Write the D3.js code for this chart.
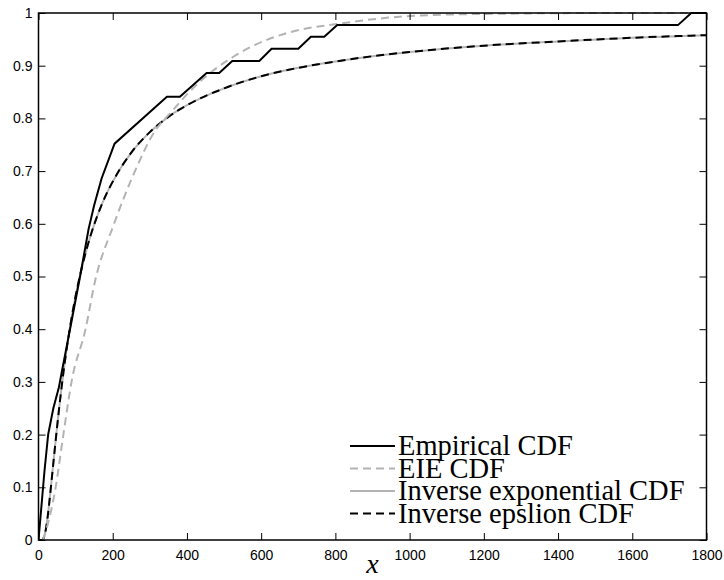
<!DOCTYPE html>
<html>
<head>
<meta charset="utf-8">
<script src="https://cdn.jsdelivr.net/npm/d3@7"></script>
<style>
  body { margin: 0; background: #fff; }
  svg { display: block; }
</style>
</head>
<body>
<svg></svg>
<script>
// values
var xTicks = [0, 200, 400, 600, 800, 1000, 1200, 1400, 1600, 1800];
var yTicks = [0, 0.1, 0.2, 0.3, 0.4, 0.5, 0.6, 0.7, 0.8, 0.9, 1];

var empX = [0, 8, 16, 26, 40, 55, 63, 85, 112, 135, 150, 170, 205, 346, 381, 453, 487, 522, 595, 628, 700, 734, 770, 805, 1723, 1759, 1800];
var empY = [0, 0.065, 0.13, 0.2, 0.25, 0.29, 0.32, 0.40, 0.50, 0.59, 0.635, 0.686, 0.752, 0.841, 0.841, 0.886, 0.886, 0.909, 0.909, 0.932, 0.932, 0.955, 0.955, 0.977, 0.977, 1, 1];

var eieX = [12, 25, 45, 67, 90, 126, 153, 202, 265, 310, 355, 426, 525, 615, 704, 803, 973, 1100, 1300, 1500, 1800];
var eieY = [0, 0.03, 0.095, 0.2, 0.304, 0.398, 0.493, 0.597, 0.708, 0.772, 0.81, 0.864, 0.917, 0.949, 0.968, 0.979, 0.993, 0.997, 0.999, 1, 1];

var invX = [0, 10, 15, 20, 25, 30, 40, 50, 60, 70, 80, 100, 120, 140, 160, 180, 200, 250, 300, 350, 400, 500, 600, 700, 800, 900, 1000, 1200, 1400, 1600, 1800];
var invExpY = [0, 0.000, 0.006, 0.021, 0.046, 0.077, 0.146, 0.214, 0.277, 0.333, 0.382, 0.463, 0.526, 0.577, 0.618, 0.652, 0.680, 0.735, 0.774, 0.803, 0.825, 0.857, 0.880, 0.896, 0.908, 0.918, 0.926, 0.938, 0.946, 0.953, 0.958];
var invEpsY = [0, 0.000, 0.006, 0.021, 0.046, 0.077, 0.146, 0.214, 0.277, 0.333, 0.382, 0.463, 0.526, 0.577, 0.618, 0.652, 0.680, 0.735, 0.774, 0.803, 0.825, 0.857, 0.880, 0.896, 0.908, 0.918, 0.926, 0.938, 0.946, 0.953, 0.958];

var legendNames = ["Empirical CDF", "EIE CDF", "Inverse exponential CDF", "Inverse epslion CDF"];

var width = 724;
var height = 580;
var plotLeft = 38.5, plotRight = 706.5, plotTop = 13, plotBottom = 540;

var svg = d3.select("svg")
            .attr("width", width)
            .attr("height", height);

var x = d3.scaleLinear().domain([0, 1800]).range([plotLeft, plotRight]);
var y = d3.scaleLinear().domain([0, 1]).range([plotBottom, plotTop]);

svg.append("clipPath").attr("id", "clip")
   .append("rect")
   .attr("x", plotLeft).attr("y", plotTop - 2)
   .attr("width", plotRight - plotLeft).attr("height", plotBottom - plotTop + 2);

var zip = function(xs, ys)
{
  return xs.map(function(d, i) { return [d, ys[i]]; });
};

var smooth = d3.line()
               .x(function(d) { return x(d[0]); })
               .y(function(d) { return y(d[1]); })
               .curve(d3.curveMonotoneX);
var straight = d3.line()
                 .x(function(d) { return x(d[0]); })
                 .y(function(d) { return y(d[1]); });

var g = svg.append("g").attr("clip-path", "url(#clip)");

var gray = "#b3b3b3";

g.append("path").datum(zip(invX, invExpY))
 .attr("d", smooth).attr("fill", "none")
 .attr("stroke", gray).attr("stroke-width", 2);
g.append("path").datum(zip(invX, invEpsY))
 .attr("d", smooth).attr("fill", "none")
 .attr("stroke", "#000").attr("stroke-width", 2)
 .attr("stroke-dasharray", "8,5");
g.append("path").datum(zip(eieX, eieY))
 .attr("d", smooth).attr("fill", "none")
 .attr("stroke", gray).attr("stroke-width", 2)
 .attr("stroke-dasharray", "8,5");
g.append("path").datum(zip(empX, empY))
 .attr("d", straight).attr("fill", "none")
 .attr("stroke", "#000").attr("stroke-width", 2)
 .attr("stroke-linejoin", "miter");

// box with inward ticks
var axisStyle = function(sel)
{
  sel.select(".domain").remove();
  sel.selectAll(".tick line").attr("stroke", "#000").attr("stroke-width", 1);
  sel.selectAll(".tick text")
     .attr("font-family", "'Liberation Sans', Arial, sans-serif")
     .attr("font-size", 14).attr("fill", "#000");
};

svg.append("g").attr("transform", "translate(0," + plotBottom + ")")
   .call(d3.axisBottom(x).tickValues(xTicks).tickSize(-7).tickPadding(10).tickFormat(d3.format("d")))
   .call(axisStyle);
svg.append("g").attr("transform", "translate(0," + plotTop + ")")
   .call(d3.axisTop(x).tickValues(xTicks).tickSize(-7).tickFormat(""))
   .call(axisStyle);
svg.append("g").attr("transform", "translate(" + plotLeft + ",0)")
   .call(d3.axisLeft(y).tickValues(yTicks).tickSize(-7).tickPadding(6).tickFormat(function(d) { return d === 0 || d === 1 ? d : d3.format(".1f")(d); }))
   .call(axisStyle);
svg.append("g").attr("transform", "translate(" + plotRight + ",0)")
   .call(d3.axisRight(y).tickValues(yTicks).tickSize(-7).tickFormat(""))
   .call(axisStyle);

svg.append("rect")
   .attr("x", plotLeft).attr("y", plotTop)
   .attr("width", plotRight - plotLeft).attr("height", plotBottom - plotTop)
   .attr("fill", "none").attr("stroke", "#000").attr("stroke-width", 1.5);

// x label
svg.append("text")
   .text("x")
   .attr("x", (plotLeft + plotRight) / 2).attr("y", 573)
   .attr("text-anchor", "middle")
   .attr("font-family", "'Liberation Serif', 'Times New Roman', serif")
   .attr("font-style", "italic")
   .attr("font-size", 28);

// legend
var legendStyles = [
  { stroke: "#000", dash: null },
  { stroke: gray, dash: "8,5" },
  { stroke: gray, dash: null },
  { stroke: "#000", dash: "8,5" }
];
var legend = svg.append("g");
legend.selectAll("line")
      .data(legendNames)
      .enter()
      .append("line")
      .attr("x1", 350).attr("x2", 395)
      .attr("y1", function(d, i) { return 446 + i * 22.5; })
      .attr("y2", function(d, i) { return 446 + i * 22.5; })
      .attr("stroke", function(d, i) { return legendStyles[i].stroke; })
      .attr("stroke-width", 2)
      .attr("stroke-dasharray", function(d, i) { return legendStyles[i].dash; });
legend.selectAll("text")
      .data(legendNames)
      .enter()
      .append("text")
      .text(function(d) { return d; })
      .attr("x", 398)
      .attr("y", function(d, i) { return 455 + i * 22.5; })
      .attr("font-family", "'Liberation Serif', 'Times New Roman', serif")
      .attr("font-size", 28.5);
</script>
</body>
</html>
